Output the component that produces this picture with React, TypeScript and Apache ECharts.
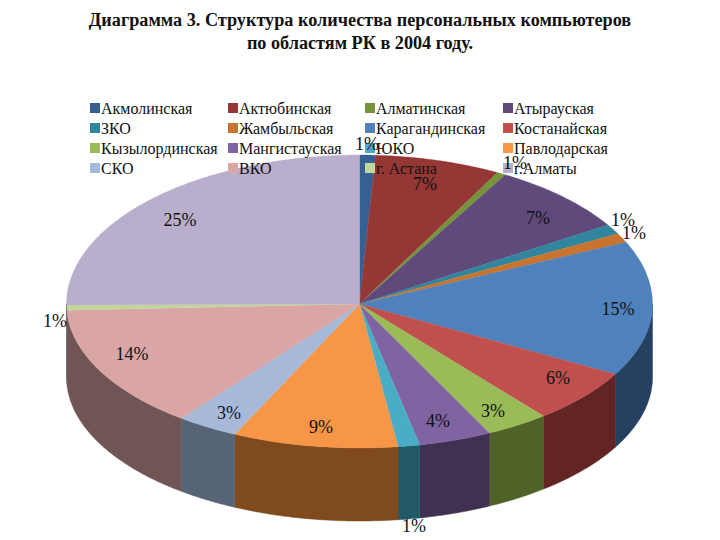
import React, { useEffect, useRef } from "react";
import * as echarts from "echarts";

const regions = ["Акмолинская","Актюбинская","Алматинская","Атырауская","ЗКО","Жамбыльская","Карагандинская","Костанайская","Кызылординская","Мангистауская","ЮКО","Павлодарская","СКО","ВКО","г. Астана","г.Алматы"];
const shares = [0.87,6.93,0.5,7.8,1.1,1.0,14.9,6.1,3.5,4.0,1.2,9.1,3.4,13.9,0.6,25.1];
const shareLabels = ["1%","7%","1%","7%","1%","1%","15%","6%","3%","4%","1%","9%","3%","14%","1%","25%"];
const topColors = ["#376092","#953735","#77933C","#604A7B","#31859C","#C9742E","#4F81BD","#C0504D","#9BBB59","#8064A2","#4BACC6","#F79646","#A7B9D9","#D9A6A5","#C3D69B","#B9AECB"];
const wallColors = ["#203a58","#5a2120","#475a24","#3a2c4a","#1e505e","#7a451b","#254061","#632523","#4F6228","#403152","#215967","#7F4A1E","#566476","#705554","#75806A","#6F6879"];
const labelAnchors = [[367,144],[425,184],[515,163],[538,218],[623,220],[634,233],[618,309],[558,378],[493,411],[438,421],[414,526],[321,427],[229,413],[132,354],[55,321],[180,220]];

const CX = 359.5, CY = 304, RX = 293, RY_BACK = 149, RY_FRONT = 144, DEPTH = 73;
const FONT = "'Liberation Serif', 'Times New Roman', serif";

function rim(deg: number): [number, number] {
  const a = (deg * Math.PI) / 180;
  const c = Math.cos(a);
  return [CX + RX * Math.sin(a), CY - (c > 0 ? RY_BACK : RY_FRONT) * c];
}
function arc(from: number, to: number): [number, number][] {
  const pts: [number, number][] = [];
  const n = Math.max(2, Math.ceil((to - from) / 0.5));
  for (let i = 0; i <= n; i++) pts.push(rim(from + ((to - from) * i) / n));
  return pts;
}

const starts = shares.map((_, i) => shares.slice(0, i).reduce((a, b) => a + b, 0));
const total = shares.reduce((a, b) => a + b, 0);

function renderSlice(_: any, api: any) {
  const from = (api.value(0) / total) * 360;
  const to = from + (api.value(1) / total) * 360;
  const i = api.value(2);
  const children: any[] = [];
  const wFrom = Math.max(from, 90), wTo = Math.min(to, 270);
  if (wTo > wFrom) {
    const upper = arc(wFrom, wTo);
    const lower = upper.map(([x, y]) => [x, y + DEPTH]).reverse();
    children.push({ type: "polygon", shape: { points: [...upper, ...lower] }, style: { fill: wallColors[i], stroke: wallColors[i], lineWidth: 0.5 } });
  }
  children.push({ type: "polygon", shape: { points: [[CX, CY], ...arc(from, to)] }, style: { fill: topColors[i], stroke: topColors[i], lineWidth: 0.3 } });
  return { type: "group", children };
}

const legendColumns = [0, 1, 2, 3].map((c) => regions.filter((_, i) => i % 4 === c));
const legendLefts = [90, 228, 365, 503];

export default function App() {
  const ref = useRef<HTMLDivElement>(null);
  useEffect(() => {
    document.body.style.margin = "0";
    const chart = echarts.init(ref.current!, undefined, { renderer: "svg" });
    chart.setOption({
      animation: false,
      backgroundColor: "#fff",
      title: {
        text: "Диаграмма 3. Структура количества персональных компьютеров\nпо областям РК в 2004 году.",
        left: 355, top: 3, textAlign: "center",
        textStyle: { fontFamily: FONT, fontSize: 18.2, fontWeight: "bold", color: "#111", lineHeight: 23 },
      },
      legend: legendColumns.map((col, c) => ({
        data: col, left: legendLefts[c], top: 98, orient: "vertical",
        itemWidth: 10, itemHeight: 10, itemGap: 0, padding: 0, icon: "rect", selectedMode: false,
        textStyle: { fontFamily: FONT, fontSize: 16, color: "#111", lineHeight: 20, padding: [0, 0, 0, -4] },
      })),
      series: regions.map((name, i) => ({
        type: "custom", name, coordinateSystem: "none", z: 2, silent: true,
        itemStyle: { color: topColors[i] },
        data: [[starts[i], shares[i], i]],
        renderItem: renderSlice,
      })),
      graphic: shareLabels.map((text, i) => ({
        type: "text", x: labelAnchors[i][0], y: labelAnchors[i][1], z: 100, silent: true,
        style: { text, fontFamily: FONT, fontSize: 18, fill: "#111", align: "center", verticalAlign: "middle" },
      })),
    });
    return () => chart.dispose();
  }, []);
  return <div ref={ref} style={{ width: 720, height: 540 }} />;
}
